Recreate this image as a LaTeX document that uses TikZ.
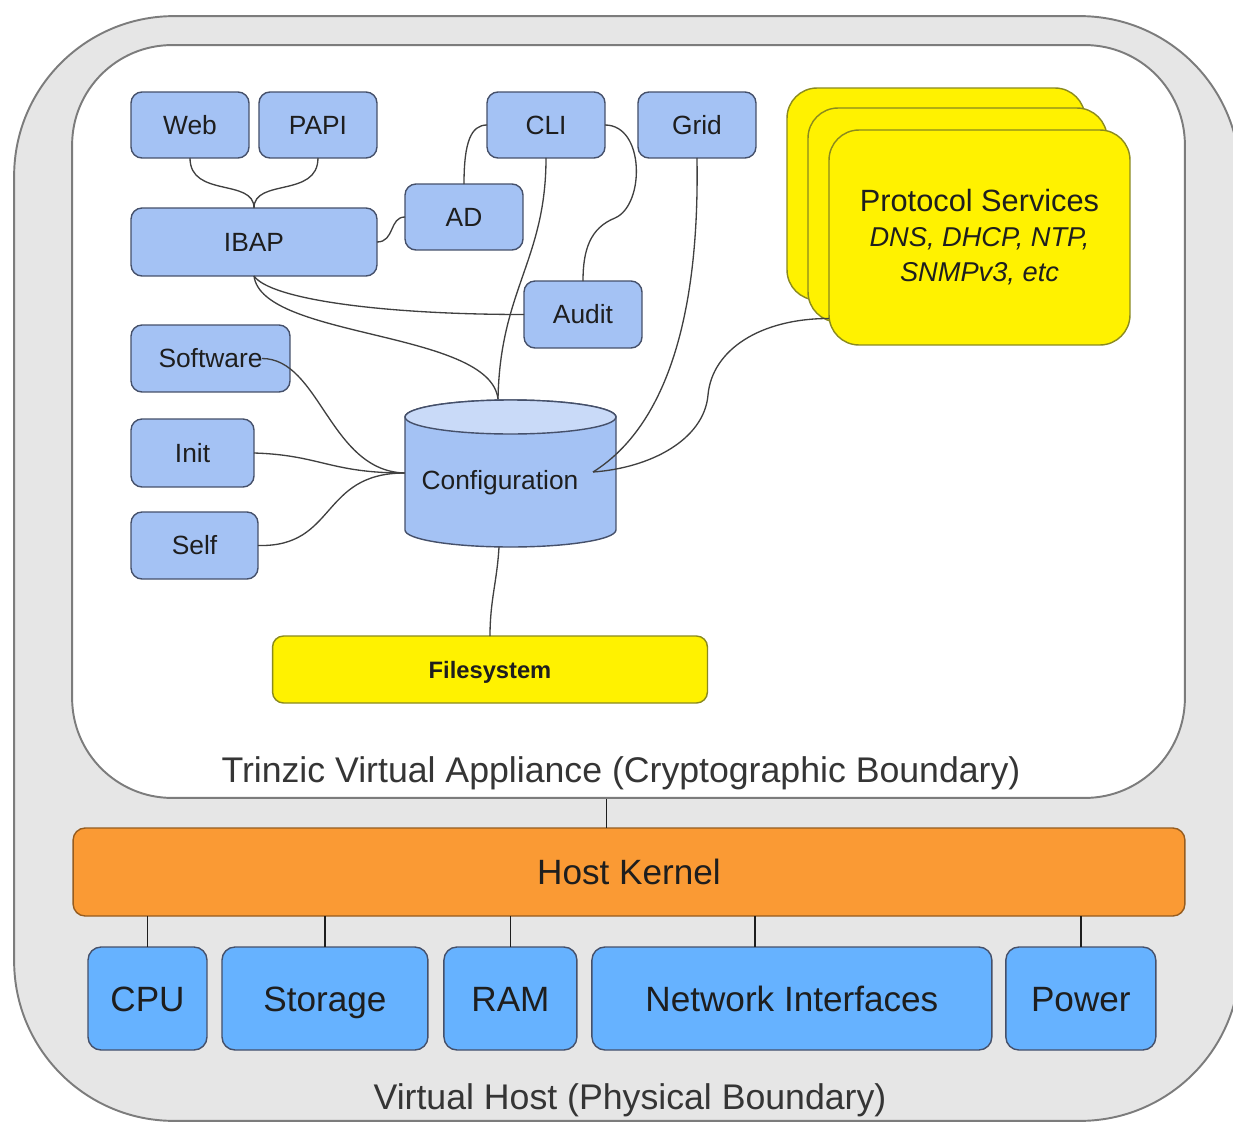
\documentclass[tikz,border=0pt]{standalone}
\usepackage{fontspec}
\setmainfont{Liberation Sans}
\usetikzlibrary{positioning}
\definecolor{ModuleBlue}{HTML}{A4C2F4}
\definecolor{ModuleTop}{HTML}{C9DAF8}
\definecolor{HostBlue}{HTML}{66B2FF}
\definecolor{KernelOrange}{HTML}{FA9A34}
\definecolor{HostGray}{HTML}{E6E6E6}
\definecolor{RimGray}{HTML}{7C7C7C}
\definecolor{BoxLine}{HTML}{45506A}
\definecolor{OliveLine}{HTML}{8A8A1E}
\definecolor{Ink}{HTML}{1E1E1E}
\tikzset{Module/.style={%
    shape=rectangle,%
    draw=BoxLine,%
    fill=ModuleBlue,%
    rounded corners=0.22cm,%
    line width=0.8pt,%
    minimum width=2.36cm,%
    minimum height=1.32cm,%
    inner sep=0pt,%
    outer sep=0pt,%
    text height=10.7pt,%
    text depth=0pt,%
    text=Ink,%
    font=\fontsize{15}{18}\selectfont,%
}}
\tikzset{Resource/.style={%
    Module,%
    fill=HostBlue,%
    rounded corners=0.26cm,%
    minimum height=2.06cm,%
    text height=14.3pt,%
    text depth=0pt,%
    font=\fontsize{20}{24}\selectfont,%
}}
\tikzset{Service/.style={%
    Module,%
    fill=yellow,%
    draw=OliveLine,%
}}
\tikzset{Boundary/.style={%
    shape=rectangle,%
    draw=RimGray,%
    line width=1.1pt,%
    inner sep=0pt,%
}}
\tikzset{Caption/.style={%
    text=Ink!90,%
    font=\fontsize{20.3}{24}\selectfont,%
}}
\tikzset{Link/.style={%
    draw=Ink!85,%
    line width=0.75pt,%
}}
\tikzset{Bus/.style={%
    draw=Ink,%
    line width=1pt,%
}}

\begin{document}
\begin{tikzpicture}[x=0.02cm, y=-0.02cm]
    \useasboundingbox (0,0) rectangle (1233,1122);

    % boundaries
    \node[Boundary, fill=HostGray, minimum width=24.52cm, minimum height=22.1cm, rounded corners=3.2cm] (host) at (627,568.5) {};
    \node[Boundary, fill=white, minimum width=22.26cm, minimum height=15.06cm, rounded corners=2cm] (appliance) at (628.5,421.5) {};
    \node[Caption] (appliancecap) at (621,773) {Trinzic Virtual Appliance (Cryptographic Boundary)};
    \node[Caption] (hostcap) at (630,1100) {Virtual Host (Physical Boundary)};

    % appliance modules
    \node[Module] (web) at (190,125) {Web};
    \node[Module, right=0.2cm of web] (papi) {PAPI};
    \node[Module] (cli) at (546,125) {CLI};
    \node[Module, right=0.66cm of cli] (grid) {Grid};
    \node[Module] (ad) at (464,217) {AD};
    \node[Module, minimum width=4.92cm, minimum height=1.36cm] (ibap) at (254,242) {IBAP};
    \node[Module, minimum height=1.34cm] (audit) at (583,314.5) {Audit};
    \node[Module, minimum width=3.18cm, minimum height=1.34cm] (software) at (210.5,358.5) {Software};
    \node[Module, minimum width=2.46cm, minimum height=1.36cm] (init) at (192.5,453) {Init};
    \node[Module, minimum width=2.54cm, minimum height=1.34cm] (self) at (194.5,545.5) {Self};

    % configuration store
    \node[minimum width=4.22cm, minimum height=2.94cm, inner sep=0pt] (cfg) at (510.5,473) {};
    \draw[draw=BoxLine, fill=ModuleBlue, line width=0.8pt] (405,417) -- (405,530)
        arc[start angle=180, end angle=360, x radius=2.11cm, y radius=0.34cm] -- (616,417)
        arc[start angle=0, end angle=180, x radius=2.11cm, y radius=0.34cm] -- cycle;
    \draw[draw=BoxLine, fill=ModuleTop, line width=0.8pt] (510.5,417) ellipse[x radius=2.11cm, y radius=0.34cm];
    \node[text=Ink, font=\fontsize{15}{18}\selectfont] (cfglabel) at (500,483) {Configuration};
    \coordinate (cfgtop) at (498,399);
    \coordinate (cfgport) at (593,472);
    \coordinate (cfgfoot) at (499,547);

    \node[Service, minimum width=8.7cm, minimum height=1.34cm, font=\fontsize{13.5}{16}\selectfont\bfseries] (filesystem) at (490,669.5) {Filesystem};

    % protocol services stack
    \node[Service, minimum width=5.96cm, minimum height=4.24cm, rounded corners=0.6cm] (svcback) at (936,194) {};
    \node[Service, minimum width=5.98cm, minimum height=4.28cm, rounded corners=0.6cm] (svcmid) at (957.5,215) {};
    \node[Service, minimum width=6.02cm, minimum height=4.3cm, rounded corners=0.6cm, text height=, text depth=, align=center, font=\fontsize{17.5}{19.9}\selectfont] (svc) at (979.5,237.5)
        {Protocol Services\\{\fontsize{15.5}{19.9}\selectfont\itshape DNS, DHCP, NTP,}\\{\fontsize{15.5}{19.9}\selectfont\itshape SNMPv3, etc}};

    % host
    \node[Resource, fill=KernelOrange, draw=KernelOrange!60!black, minimum width=22.24cm, minimum height=1.76cm, rounded corners=0.24cm] (kernel) at (629,872) {Host Kernel};
    \node[Resource, minimum width=2.38cm] (cpu) at (147.5,998.5) {CPU};
    \node[Resource, minimum width=4.12cm, right=0.3cm of cpu] (storage) {Storage};
    \node[Resource, minimum width=2.66cm, right=0.32cm of storage] (ram) {RAM};
    \node[Resource, minimum width=8.0cm, right=0.3cm of ram] (netif) {Network Interfaces};
    \node[Resource, minimum width=3.0cm, right=0.28cm of netif] (power) {Power};

    % links inside the appliance
    \draw[Link] (web.south) .. controls +(0,40) and +(0,-30) .. (ibap.north);
    \draw[Link] (papi.south) .. controls +(0,40) and +(0,-30) .. (ibap.north);
    \draw[Link] (ibap.east) .. controls +(18,0) and +(-16,0) .. (ad.west);
    \draw[Link] (ad.north) .. controls +(0,-42) and +(-16,0) .. (cli.west);
    \draw[Link] (cli.east) .. controls +(40,0) and +(30,-13) .. (615,218) .. controls +(-25,10) and +(0,-31) .. (audit.north);
    \draw[Link] (cli.south) .. controls +(0,102) and +(2,-109) .. (cfgtop);
    \draw[Link] (grid.south) .. controls +(3,172) and +(67,-42) .. (cfgport);
    \draw[Link] (ibap.south) .. controls +(16,23) and +(-144,0) .. (audit.west);
    \draw[Link] (ibap.south) .. controls +(8,63) and +(-8,-69) .. (cfgtop);
    \draw[Link] ([xshift=-0.56cm]software.east) .. controls +(58,0) and +(-75,-2) .. (cfg.west);
    \draw[Link] (init.east) .. controls +(66,2) and +(-75,0) .. (cfg.west);
    \draw[Link] (self.east) .. controls +(79,2) and +(-85,0) .. (cfg.west);
    \draw[Link] ([yshift=-1.62cm]svc.west) .. controls +(-69,0) and +(4,-45) .. (708,395) .. controls +(-4,45) and +(57,-4) .. (cfgport);
    \draw[Link] (cfgfoot) .. controls +(-2,35) and +(0,-36) .. (filesystem.north);

    % links to the host
    \draw[Bus] ([xshift=-0.44cm]appliance.south) -- ([xshift=-0.44cm]appliance.south |- kernel.north);
    \draw[Bus] (cpu.north) -- (cpu.north |- kernel.south);
    \draw[Bus] (storage.north) -- (storage.north |- kernel.south);
    \draw[Bus] (ram.north) -- (ram.north |- kernel.south);
    \draw[Bus] ([xshift=-0.74cm]netif.north) -- ([xshift=-0.74cm]netif.north |- kernel.south);
    \draw[Bus] (power.north) -- (power.north |- kernel.south);
\end{tikzpicture}
\end{document}
